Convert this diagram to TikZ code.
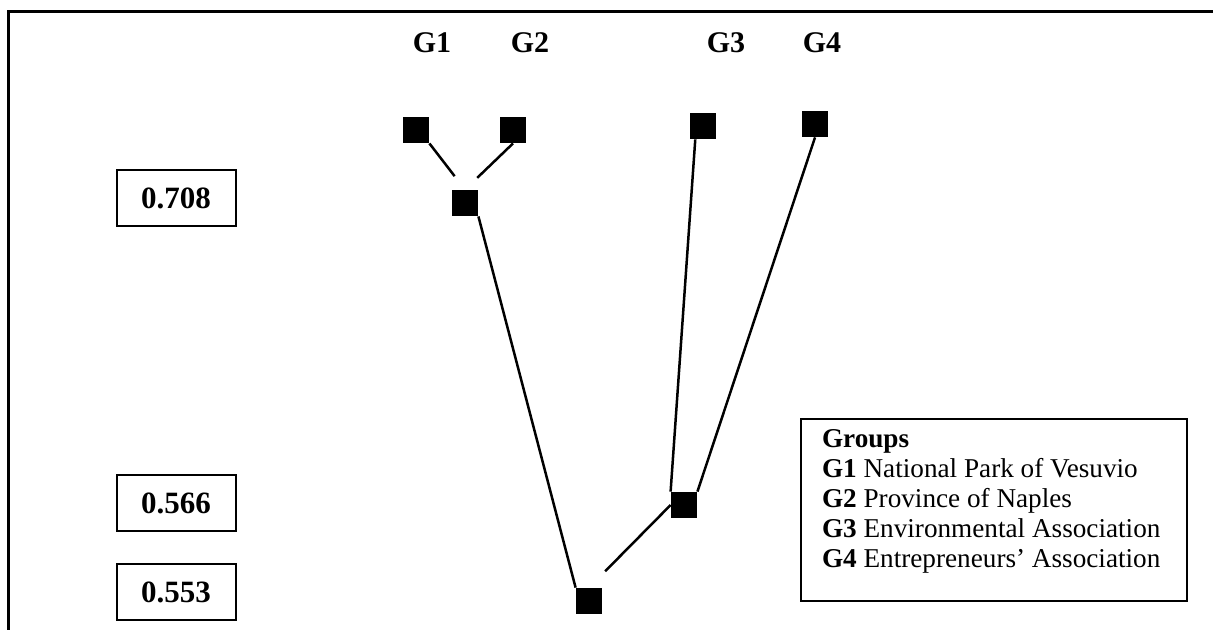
\documentclass[tikz,border=0pt]{standalone}
\usepackage{fontspec}
\setmainfont{Liberation Serif}
\usetikzlibrary{positioning, calc}
\tikzstyle{group} = [
    rectangle,
    fill=black,
    minimum size=13pt,
    inner sep=0pt
]
\tikzstyle{value} = [
    rectangle,
    draw,
    line width=1pt,
    minimum width=59.5pt,
    minimum height=28pt,
    font=\fontsize{15.5}{18}\selectfont\bfseries
]
\tikzstyle{link} = [
    line width=1.25pt
]

\begin{document}
\begin{tikzpicture}[x=0.5pt, y=-0.5pt]

\tikzstyle{glabel} = [
    font=\fontsize{15}{18}\selectfont\bfseries
]
\tikzstyle{legend} = [
    rectangle,
    draw,
    line width=1pt,
    inner xsep=10.5pt,
    inner ysep=0pt,
    font=\fontsize{13.6}{15}\selectfont
]

\useasboundingbox (0,0) rectangle (1213,629);
\draw[line width=1.5pt] (8,650) -- (8,11) -- (1230,11);

\node (g1)   [group] at (416,130) {};
\node (g2)   [group] at (513,130) {};
\node (g3)   [group] at (703,126) {};
\node (g4)   [group] at (815,124) {};
\node (g12)  [group] at (465,203) {};
\node (g34)  [group] at (684,505) {};
\node (root) [group] at (589,601) {};

\node (l1) [glabel] at (432,43) {G1};
\node (l2) [glabel] at (530,43) {G2};
\node (l3) [glabel] at (726,43) {G3};
\node (l4) [glabel] at (822,43) {G4};

\node (v1) [value] at (176,198) {0.708};
\node (v2) [value] at (176,503) {0.566};
\node (v3) [value] at (176,592) {0.553};

\node (key) [legend, anchor=north west] at (800,418) {%
    \parbox[c][91pt][t]{172pt}{\vspace*{5pt}%
    \textbf{Groups}\\
    \textbf{G1} National Park of Vesuvio\\
    \textbf{G2} Province of Naples\\
    \textbf{G3} Environmental Association\\
    \textbf{G4} Entrepreneurs’ Association}};

\draw[link, shorten >=8.5pt] (g1.south east) -- (g12.north);
\draw[link, shorten >=8.5pt] (g2.south) -- (g12.north);
\draw[link] (g12.south east) -- (root.north west);
\draw[link] (g3.-120) -- (g34.north west);
\draw[link] (g4.south) -- (g34.north east);
\draw[link, shorten >=11.5pt] (g34.west) -- (root.north);

\end{tikzpicture}
\end{document}
